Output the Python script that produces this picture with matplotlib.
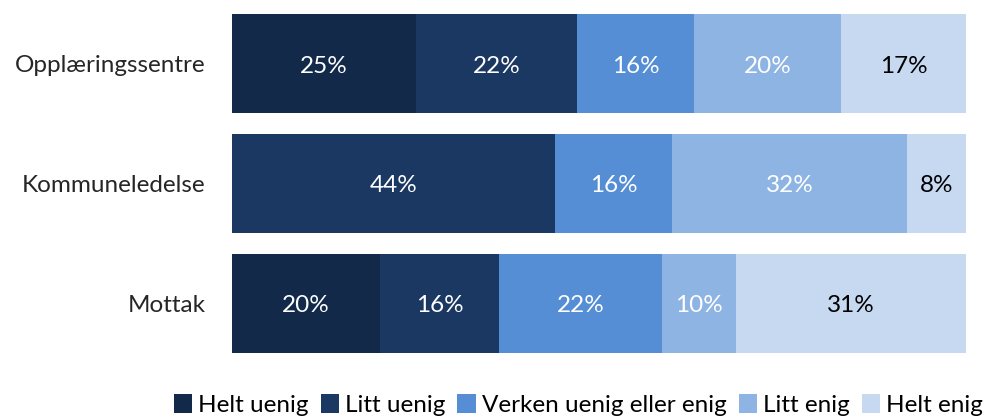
import matplotlib.pyplot as plt
import numpy as np

plt.rcParams['font.family'] = ['Lato', 'DejaVu Sans']

kategorier = ['Opplæringssentre', 'Kommuneledelse', 'Mottak']
svar = ['Helt uenig', 'Litt uenig', 'Verken uenig eller enig', 'Litt enig', 'Helt enig']
farger = ['#13294a', '#1a3862', '#558ed5', '#8eb4e3', '#c6d9f1']
tekstfarger = ['white', 'white', 'white', 'white', 'black']

helt_uenig = [25, 0, 20]
litt_uenig = [22, 44, 16]
verken = [16, 16, 22]
litt_enig = [20, 32, 10]
helt_enig = [17, 8, 31]

verdier = np.array([helt_uenig, litt_uenig, verken, litt_enig, helt_enig], dtype=float)
andel = verdier / verdier.sum(axis=0) * 100  # hver rad fyller hele bredden

fig = plt.figure(figsize=(9.97, 4.19), dpi=100)
ax = fig.add_axes([0.2327, 1 - 353 / 419, 0.969 - 0.2327, (353 - 14) / 419])

y = np.arange(len(kategorier))
venstre = np.zeros(len(kategorier))
for i, navn in enumerate(svar):
    ax.barh(y, andel[i], left=venstre, height=0.83, color=farger[i], label=navn)
    for j in range(len(kategorier)):
        if verdier[i, j] > 0:
            ax.text(venstre[j] + andel[i, j] / 2, y[j] + 0.02, f'{int(verdier[i, j])}%',
                    ha='center', va='center', color=tekstfarger[i], fontsize=17.5)
    venstre += andel[i]

ax.set_xlim(0, 100)
ax.set_ylim(2.415, -0.415)
ax.set_yticks(y)
ax.set_yticklabels(kategorier, fontsize=17.5, color='#262626')
ax.tick_params(axis='y', length=0, pad=19)
ax.set_xticks([])
for s in ax.spines.values():
    s.set_visible(False)

fig.legend(loc='center', bbox_to_anchor=(0.580, 1 - 405 / 419), ncol=5, frameon=False,
           fontsize=17.5, handlelength=0.75, handleheight=0.8, handletextpad=0.25,
           columnspacing=0.5, borderaxespad=0, borderpad=0)

fig.savefig('out.png')
